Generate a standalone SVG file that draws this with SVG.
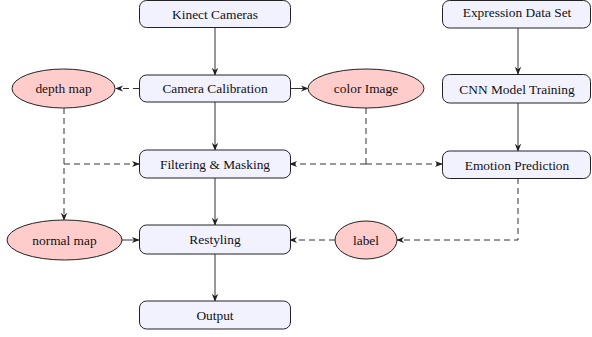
<svg xmlns="http://www.w3.org/2000/svg" width="592" height="337" viewBox="0 0 592 337">
<style>
.box{fill:#f2f2ff;stroke:#222;stroke-width:1}
.ell{fill:#ffcccc;stroke:#222;stroke-width:1}
.t{font-family:'Liberation Serif','Times New Roman',serif;font-size:13.4px;fill:#111;text-anchor:middle}
.c{fill:none;stroke:#333;stroke-width:1}
.d{stroke-dasharray:6,4}
</style>
<defs>
<marker id="ah" viewBox="0 0 10 10" refX="9" refY="5" markerWidth="8" markerHeight="8" markerUnits="userSpaceOnUse" orient="auto">
<path d="M0,1 L10,5 L0,9 L3,5 Z" fill="#222"/>
</marker>
</defs>
<g id="connectors">
<path class="c" d="M215,27 V75" marker-end="url(#ah)"/>
<path class="c" d="M215,102 V150" marker-end="url(#ah)"/>
<path class="c" d="M215,178 V225" marker-end="url(#ah)"/>
<path class="c" d="M215,254 V301" marker-end="url(#ah)"/>
<path class="c" d="M518,28 V74" marker-end="url(#ah)"/>
<path class="c" d="M518,103 V151" marker-end="url(#ah)"/>
<path class="c d" d="M139,88.5 H116" marker-end="url(#ah)"/>
<path class="c" d="M290,88.5 H308" marker-end="url(#ah)"/>
<path class="c d" d="M64,108 V220" marker-end="url(#ah)"/>
<path class="c d" d="M64,164 H139" marker-end="url(#ah)"/>
<path class="c d" d="M366,108 V164"/>
<path class="c d" d="M366,164 H290" marker-end="url(#ah)"/>
<path class="c d" d="M366,164 H442" marker-end="url(#ah)"/>
<path class="c d" d="M518,178 V240 H397" marker-end="url(#ah)"/>
<path class="c d" d="M335,240 H290" marker-end="url(#ah)"/>
<path class="c" d="M122,240 H139" marker-end="url(#ah)"/>
</g>
<g id="kinect"><rect class="box" x="139.5" y="0.5" width="151" height="27" rx="7"/><text class="t" font-family="Liberation Serif" x="215" y="18.5">Kinect Cameras</text></g>
<g id="calib"><rect class="box" x="139.5" y="75" width="151" height="27" rx="7"/><text class="t" font-family="Liberation Serif" x="215" y="93">Camera Calibration</text></g>
<g id="filter"><rect class="box" x="139.5" y="150" width="151" height="28" rx="7"/><text class="t" font-family="Liberation Serif" x="215" y="168.5">Filtering &amp; Masking</text></g>
<g id="restyle"><rect class="box" x="139.5" y="225" width="151" height="29" rx="7"/><text class="t" font-family="Liberation Serif" x="215" y="244">Restyling</text></g>
<g id="output"><rect class="box" x="139.5" y="301" width="151" height="28" rx="7"/><text class="t" font-family="Liberation Serif" x="215" y="319.5">Output</text></g>
<g id="expr"><rect class="box" x="442.5" y="0.5" width="148" height="27.5" rx="7"/><text class="t" font-family="Liberation Serif" x="517" y="17">Expression Data Set</text></g>
<g id="cnn"><rect class="box" x="442.5" y="74.5" width="148" height="28.5" rx="7"/><text class="t" font-family="Liberation Serif" x="517" y="93.5">CNN Model Training</text></g>
<g id="emotion"><rect class="box" x="442.5" y="151" width="148" height="27.5" rx="7"/><text class="t" font-family="Liberation Serif" x="517" y="169.5">Emotion Prediction</text></g>
<g id="depth"><ellipse class="ell" cx="63.5" cy="88.5" rx="51.5" ry="19.5"/><text class="t" font-family="Liberation Serif" x="63.5" y="93">depth map</text></g>
<g id="color"><ellipse class="ell" cx="366" cy="88.5" rx="58" ry="19.5"/><text class="t" font-family="Liberation Serif" x="366" y="93">color Image</text></g>
<g id="normal"><ellipse class="ell" cx="64.5" cy="240" rx="57.5" ry="20"/><text class="t" font-family="Liberation Serif" x="64.5" y="244.5">normal map</text></g>
<g id="label"><ellipse class="ell" cx="366" cy="240" rx="31" ry="19"/><text class="t" font-family="Liberation Serif" x="366" y="244.5">label</text></g>
</svg>
